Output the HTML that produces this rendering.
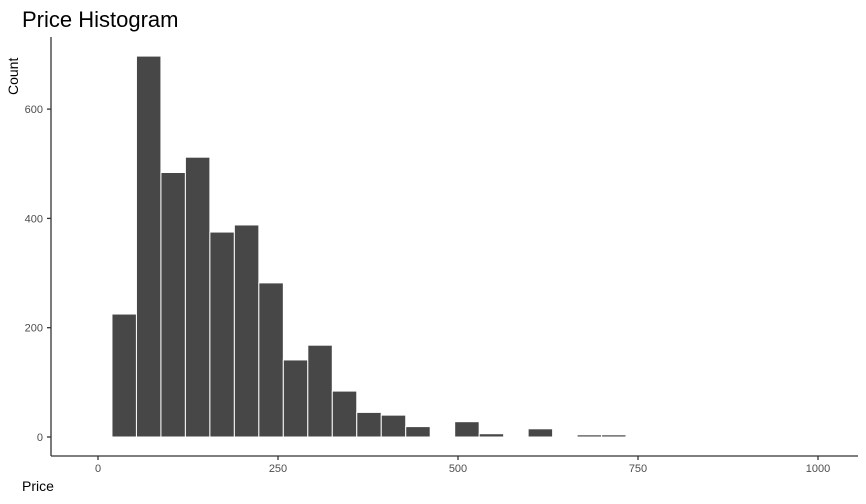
<!DOCTYPE html>
<html><head><meta charset="utf-8"><style>
body{margin:0;background:#fff;font-family:"Liberation Sans",sans-serif}
</style></head><body>
<svg width="866" height="499" xmlns="http://www.w3.org/2000/svg">
<rect width="866" height="499" fill="#fff"/>
<text x="22" y="27" font-size="22" fill="#000">Price Histogram</text>
<text transform="translate(18,95) rotate(-90)" font-size="14" fill="#000">Count</text>
<text x="22" y="491" font-size="14" fill="#000">Price</text>
<g id="bars"></g>
<g id="axes"></g>
</svg>
<script>
const binStart = -14.6;
const binWidth = 34;
const counts = [0,225,697,484,512,375,388,282,141,168,84,45,40,19,0,28,6,0,15,0,4,4,1,1,0,0,0,0,0,1];
const xTicks = [0,250,500,750,1000];
const yTicks = [0,200,400,600];
const xs = v => 98 + v*0.72;
const ys = v => 437 - v*0.5465;
const ns = "http://www.w3.org/2000/svg";
const bars = document.getElementById('bars');
counts.forEach((c,i)=>{
  const x0 = xs(binStart + i*binWidth), x1 = xs(binStart + (i+1)*binWidth);
  const r = document.createElementNS(ns,'rect');
  r.setAttribute('x', x0); r.setAttribute('width', x1-x0);
  r.setAttribute('y', ys(c)); r.setAttribute('height', Math.max(0, ys(0)-ys(c)));
  r.setAttribute('fill', '#474747'); r.setAttribute('stroke', c>0?'#fff':'#eee'); r.setAttribute('stroke-width', '1');
  
  
  bars.appendChild(r);
});
const ax = document.getElementById('axes');
function line(x1,y1,x2,y2,name){
  const l = document.createElementNS(ns,'line');
  l.setAttribute('x1',x1);l.setAttribute('y1',y1);l.setAttribute('x2',x2);l.setAttribute('y2',y2);
  l.setAttribute('stroke','#333');l.setAttribute('stroke-width','1.3');
  
  
  ax.appendChild(l);
}
function text(x,y,s,anchor,name){
  const t = document.createElementNS(ns,'text');
  t.setAttribute('x',x);t.setAttribute('y',y);t.setAttribute('text-anchor',anchor);
  t.setAttribute('font-size','11');t.setAttribute('fill','#4d4d4d');t.textContent=s;
  
  
  ax.appendChild(t);
}
line(51,37,51,456,'y-axis-line');
line(51,456,858,456,'x-axis-line');
yTicks.forEach(v=>{ line(47,ys(v),51,ys(v),'y-tick'); text(43,ys(v)+4,String(v),'end','y-tick-label'); });
xTicks.forEach(v=>{ line(xs(v),456,xs(v),460,'x-tick'); text(xs(v),472,String(v),'middle','x-tick-label'); });
</script>
</body></html>
